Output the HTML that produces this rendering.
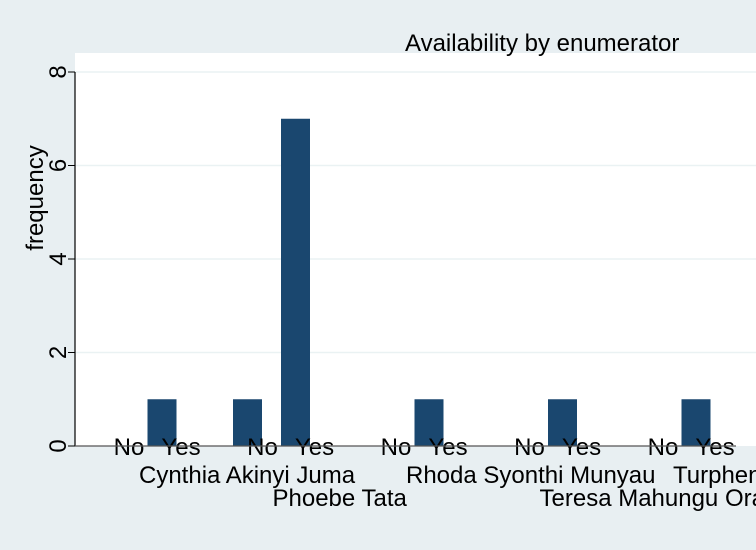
<!DOCTYPE html>
<html><head><meta charset="utf-8"><style>
html,body{margin:0;padding:0;background:#e8eff2;}
svg{display:block;font-family:"Liberation Sans",sans-serif;}
</style></head><body>
<svg id="chart" width="756" height="550">
<rect x="0" y="0" width="756" height="550" fill="#e8eff2"/>
<rect x="75" y="53" width="681" height="393" fill="#ffffff"/>
<text x="405" y="51" font-size="24" fill="#000">Availability by enumerator</text>
<text transform="translate(43,198) rotate(-90)" font-size="24" text-anchor="middle">frequency</text>
<g id="grid"></g><g id="bars"></g><g id="labels"></g>
<line x1="75" y1="72" x2="75" y2="446" stroke="#000" stroke-width="1.2"/>
<line x1="75" y1="446" x2="736" y2="446" stroke="#555" stroke-width="1.2"/>
</svg>
<script>
const groups = ["Cynthia Akinyi Juma","Phoebe Tata","Rhoda Syonthi Munyau","Teresa Mahungu Ora","Turphen"];
const noValues = [0,1,0,0,0];
const yesValues = [1,7,1,1,1];
const yTicks = [0,2,4,6,8];
const ns="http://www.w3.org/2000/svg";
function y(v){return 446 - v*46.75;}
function gx(i){return 162 + i*133.5;}
const grid=document.getElementById('grid'), bars=document.getElementById('bars'), labels=document.getElementById('labels');
function mk(tag,attrs,parent,txt){const e=document.createElementNS(ns,tag);for(const k in attrs)e.setAttribute(k,attrs[k]);if(txt!==undefined)e.textContent=txt;parent.appendChild(e);return e;}
yTicks.forEach(t=>{
  if(t>0){const g=mk('line',{x1:75,x2:756,y1:y(t),y2:y(t),stroke:'#eaf2f3','stroke-width':1.5},grid);
  
  }
  const tk=mk('line',{x1:68,x2:75,y1:y(t),y2:y(t),stroke:'#000'},grid);
  
  
  const l=mk('text',{transform:`translate(66,${y(t)}) rotate(-90)`,'font-size':24,'text-anchor':'middle'},grid,String(t));
  
  
});
groups.forEach((g,i)=>{
  const cy=gx(i), cn=cy-48, w=29;
  [[cn,noValues[i],'no'],[cy,yesValues[i],'yes']].forEach(([c,v,k])=>{
    if(v>0){const r=mk('rect',{x:c-w/2,y:y(v),width:w,height:446-y(v),fill:'#1a476f'},bars);
    
    }
  });
  const a=mk('text',{x:cy-33,y:455,'font-size':24,'text-anchor':'middle'},labels,'No');
  
  
  const b=mk('text',{x:cy+19,y:455,'font-size':24,'text-anchor':'middle'},labels,'Yes');
  
  
  const n=mk('text',{x:cy-23,y:(i%2==0)?483:506,'font-size':24},labels,g);
  
  
});
</script>
</body></html>
